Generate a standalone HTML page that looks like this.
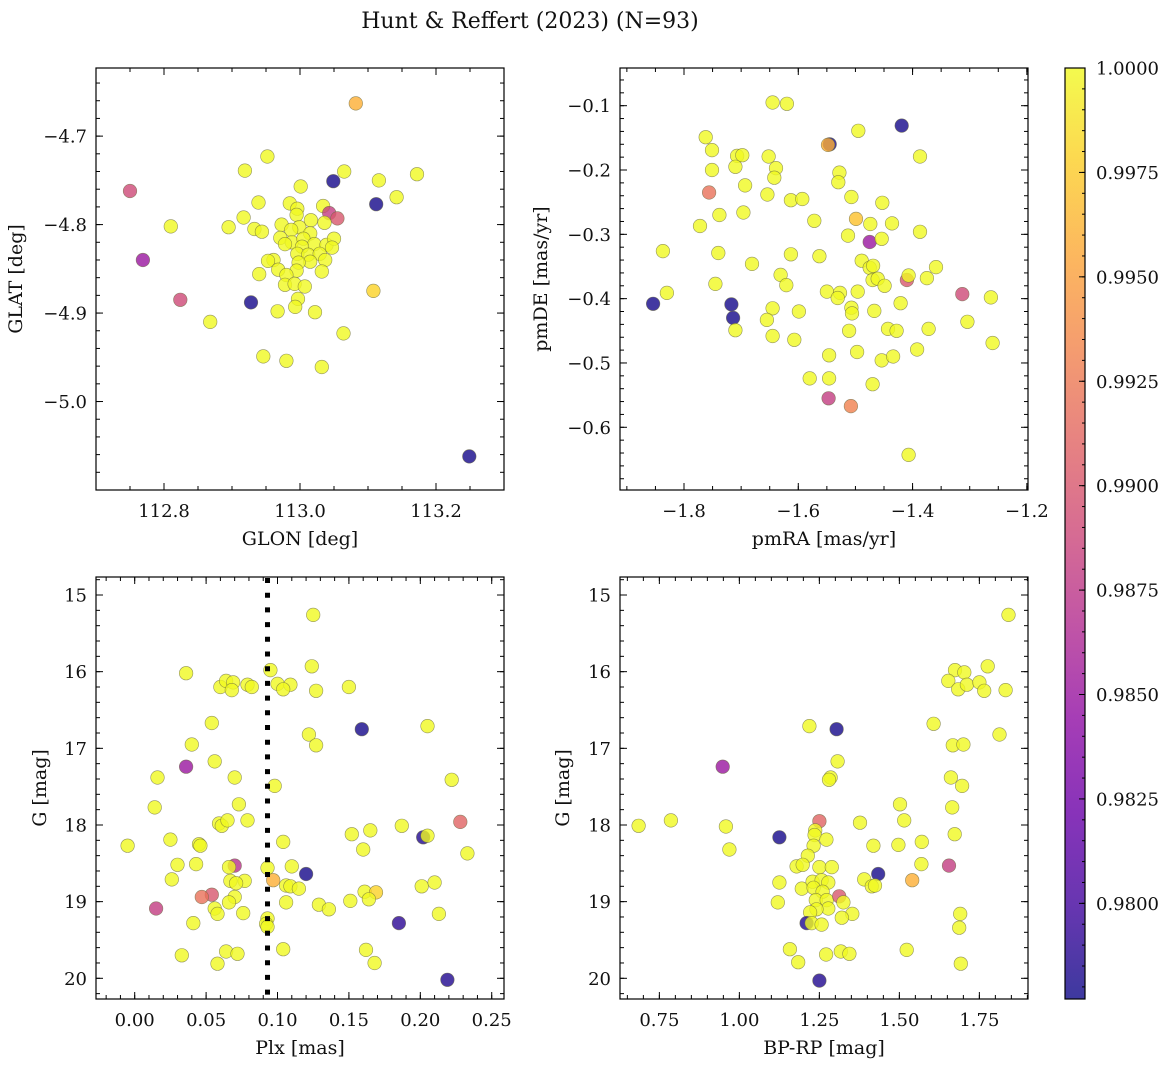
<!DOCTYPE html>
<html><head><meta charset="utf-8">
<style>
html,body{margin:0;padding:0;background:#fff;}
svg text{font-family:"DejaVu Serif","Liberation Serif",serif;fill:#111;}
</style></head>
<body>
<svg id="fig" width="1173" height="1067" viewBox="0 0 1173 1067" xmlns="http://www.w3.org/2000/svg">
<defs>
<linearGradient id="plasmaGrad" x1="0" y1="1" x2="0" y2="0">
<stop offset="0" stop-color="#0d0887"/><stop offset="0.1" stop-color="#41049d"/><stop offset="0.2" stop-color="#6a00a8"/><stop offset="0.3" stop-color="#8f0da4"/><stop offset="0.4" stop-color="#b12a90"/><stop offset="0.5" stop-color="#cc4778"/><stop offset="0.6" stop-color="#e16462"/><stop offset="0.7" stop-color="#f2844b"/><stop offset="0.8" stop-color="#fca636"/><stop offset="0.9" stop-color="#fcce25"/><stop offset="1" stop-color="#f0f921"/>
</linearGradient>
</defs>
<text x="530" y="28" font-size="22" text-anchor="middle">Hunt &amp; Reffert (2023) (N=93)</text>
</svg>
<script>
// ---- Panel 1: GLON / GLAT ----
const glon = [112.750,112.769,112.810,112.824,112.868,113.082,113.249,112.952,112.919,113.065,113.049,113.116,113.172,113.001,113.142,113.112,112.939,112.985,112.996,113.034,113.043,113.055,113.036,112.917,112.895,112.933,112.944,112.973,112.995,113.016,112.999,112.987,113.015,112.971,112.988,113.005,113.021,113.039,113.050,113.047,113.003,112.978,112.996,113.012,113.029,113.037,113.015,112.998,112.961,112.953,112.968,112.995,113.032,112.980,112.940,112.978,112.992,113.007,112.997,112.993,112.967,113.022,112.928,113.108,113.064,112.946,112.980,113.032];
const glat = [-4.762,-4.840,-4.802,-4.885,-4.910,-4.663,-5.062,-4.723,-4.739,-4.740,-4.751,-4.750,-4.743,-4.757,-4.769,-4.777,-4.775,-4.776,-4.782,-4.779,-4.787,-4.793,-4.798,-4.792,-4.803,-4.805,-4.808,-4.800,-4.789,-4.795,-4.803,-4.806,-4.810,-4.815,-4.820,-4.816,-4.822,-4.823,-4.816,-4.826,-4.825,-4.822,-4.833,-4.834,-4.833,-4.840,-4.842,-4.843,-4.840,-4.841,-4.851,-4.852,-4.853,-4.857,-4.856,-4.868,-4.867,-4.870,-4.884,-4.893,-4.898,-4.899,-4.888,-4.875,-4.923,-4.949,-4.954,-4.961];
const prob1 = [.989,.985,1,.989,1,.996,.978,1,1,1,.978,1,1,1,1,.978,1,1,1,1,.988,.990,
1,1,1,1,1,1,1,1,1,1,1,1,1,1,1,1,1,1,1,1,1,1,1,1,1,1,1,1,1,1,1,1,1,1,1,1,1,1,1,1,
.978,.998,1,1,1,1];
// ---- Panel 2: pmRA / pmDE ----
const pmra = [-1.645,-1.620,-1.762,-1.751,-1.751,-1.707,-1.698,-1.710,-1.652,-1.639,-1.642,-1.756,-1.693,-1.654,-1.613,-1.593,-1.545,-1.548,-1.495,-1.419,-1.387,-1.528,-1.530,-1.507,-1.453,-1.738,-1.696,-1.772,-1.572,-1.499,-1.474,-1.436,-1.513,-1.475,-1.454,-1.387,-1.837,-1.740,-1.681,-1.613,-1.563,-1.489,-1.475,-1.469,-1.631,-1.621,-1.470,-1.461,-1.449,-1.410,-1.407,-1.375,-1.359,-1.745,-1.830,-1.854,-1.717,-1.714,-1.710,-1.550,-1.527,-1.531,-1.496,-1.507,-1.506,-1.645,-1.655,-1.645,-1.599,-1.607,-1.467,-1.421,-1.313,-1.263,-1.304,-1.260,-1.443,-1.428,-1.511,-1.372,-1.392,-1.546,-1.497,-1.454,-1.434,-1.580,-1.546,-1.470,-1.547,-1.508,-1.407];
const pmde = [-0.095,-0.097,-0.149,-0.169,-0.200,-0.178,-0.177,-0.195,-0.179,-0.197,-0.212,-0.235,-0.224,-0.238,-0.247,-0.245,-0.160,-0.161,-0.139,-0.131,-0.179,-0.204,-0.219,-0.242,-0.251,-0.270,-0.266,-0.287,-0.279,-0.276,-0.284,-0.283,-0.302,-0.312,-0.307,-0.296,-0.326,-0.329,-0.346,-0.331,-0.334,-0.341,-0.352,-0.349,-0.363,-0.379,-0.371,-0.369,-0.380,-0.371,-0.364,-0.368,-0.351,-0.377,-0.391,-0.408,-0.409,-0.430,-0.449,-0.389,-0.391,-0.399,-0.389,-0.414,-0.423,-0.415,-0.433,-0.458,-0.420,-0.464,-0.419,-0.407,-0.393,-0.398,-0.436,-0.469,-0.447,-0.450,-0.450,-0.447,-0.479,-0.488,-0.483,-0.496,-0.490,-0.524,-0.524,-0.533,-0.555,-0.567,-0.643];
const prob2 = [1,1,1,1,1,1,1,1,1,1, 1,.992,1,1,1,1,.978,.996,1,.978, 1,1,1,1,1,1,1,1,1,.997, 1,1,1,.985,1,1,1,1,1,1, 1,1,1,1,1,1,1,1,1,.990, 1,1,1,1,1,.978,.978,.978,1,1, 1,1,1,1,1,1,1,1,1,1, 1,1,.989,1,1,1,1,1,1,1, 1,1,1,1,1,1,1,1,.988,.993,1];
// ---- Panel 3: Plx / G ----
const plx = [0.125,0.036,0.124,0.095,0.060,0.064,0.069,0.068,0.079,0.082,0.100,0.109,0.104,0.127,0.150,0.054,0.159,0.205,0.122,0.127,0.040,0.036,0.056,0.016,0.070,0.098,0.222,0.014,0.073,0.059,0.061,0.065,0.079,0.187,0.228,-0.005,0.025,0.045,0.046,0.152,0.165,0.202,0.205,0.104,0.160,0.233,0.030,0.043,0.070,0.066,0.093,0.110,0.120,0.026,0.067,0.077,0.071,0.097,0.106,0.109,0.115,0.054,0.047,0.070,0.066,0.106,0.015,0.056,0.058,0.076,0.129,0.136,0.151,0.161,0.169,0.164,0.201,0.210,0.185,0.213,0.041,0.093,0.092,0.093,0.033,0.064,0.072,0.058,0.104,0.162,0.168,0.219];
const gmag3 = [15.26,16.02,15.93,15.98,16.20,16.12,16.14,16.24,16.17,16.20,16.16,16.17,16.23,16.25,16.20,16.67,16.75,16.71,16.82,16.96,16.95,17.24,17.17,17.38,17.38,17.49,17.41,17.77,17.73,17.98,18.01,17.94,17.94,18.01,17.96,18.27,18.19,18.25,18.27,18.12,18.07,18.16,18.14,18.22,18.32,18.37,18.52,18.51,18.53,18.55,18.56,18.54,18.64,18.71,18.73,18.73,18.76,18.72,18.79,18.80,18.83,18.91,18.94,18.94,19.01,19.01,19.09,19.09,19.16,19.15,19.04,19.10,18.99,18.87,18.88,18.97,18.80,18.75,19.28,19.16,19.28,19.22,19.29,19.33,19.70,19.65,19.68,19.81,19.62,19.63,19.80,20.02];
const prob3 = [1,1,1,1,1,1,1,1,1,1, 1,1,1,1,1,1,.978,1,1,1, 1,.985,1,1,1,1,1,1,1,1, 1,1,1,1,.991,1,1,1,1,1, 1,.9785,1,1,1,1,1,1,.987,1, 1,1,.978,1,1,1,1,.996,1,1, 1,.990,.992,1,1,1,.988,1,1,1, 1,1,1,1,.998,1,1,1,.979,1, 1,1,1,1,1,1,1,1,1,1, 1,.9785];
const plxLine = [0.093];
// ---- Panel 4: BP-RP / G ----
const bprp = [1.841,1.674,1.703,1.653,1.684,1.711,1.750,1.765,1.776,1.832,1.607,1.813,1.667,1.700,1.219,1.304,0.948,1.307,1.285,1.280,1.661,1.696,1.665,1.502,1.515,1.377,1.673,0.685,0.786,0.958,0.969,1.250,1.237,1.235,1.272,1.232,1.214,1.125,1.419,1.497,1.570,1.569,1.655,1.179,1.198,1.250,1.289,1.434,1.390,1.540,1.414,1.424,1.125,1.120,1.195,1.229,1.257,1.278,1.232,1.260,1.239,1.273,1.312,1.325,1.278,1.241,1.353,1.320,1.221,1.210,1.226,1.257,1.690,1.687,1.158,1.184,1.271,1.317,1.344,1.523,1.692,1.250];
const gmag4 = [15.26,15.98,16.01,16.12,16.23,16.17,16.14,16.25,15.93,16.24,16.68,16.82,16.96,16.95,16.71,16.75,17.24,17.17,17.38,17.41,17.38,17.49,17.77,17.73,17.94,17.97,18.12,18.01,17.94,18.02,18.32,17.95,18.07,18.13,18.19,18.27,18.40,18.16,18.27,18.26,18.22,18.51,18.53,18.54,18.52,18.55,18.55,18.64,18.71,18.72,18.80,18.79,18.75,19.01,18.83,18.74,18.72,18.75,18.82,18.87,18.98,18.98,18.93,19.01,19.09,19.10,19.16,19.21,19.14,19.28,19.28,19.30,19.16,19.34,19.62,19.79,19.69,19.65,19.68,19.63,19.81,20.03];
const prob4 = [1,1,1,1,1,1,1,1,1,1, 1,1,1,1,1,.978,.985,1,1,1, 1,1,1,1,1,1,1,1,1,1, 1,.991,1,1,1,1,1,.978,1,1, 1,1,.988,1,1,1,1,.978,1,.996, 1,1,1,1,1,1,1,1,1,1, 1,1,.990,1,1,1,1,1,1,.9785, 1,1,1,1,1,1,1,1,1,1, 1,.9785];
// ---- Tick labels ----
const p1XTicks = [112.8,113.0,113.2];
const p1YTicks = [-4.7,-4.8,-4.9,-5.0];
const p2XTicks = [-1.8,-1.6,-1.4,-1.2];
const p2YTicks = [-0.1,-0.2,-0.3,-0.4,-0.5,-0.6];
const p3XTicks = [0.00,0.05,0.10,0.15,0.20,0.25];
const gTicks = [15,16,17,18,19,20];
const p4XTicks = [0.75,1.00,1.25,1.50,1.75];
const cbTicks = [1.0000,0.9975,0.9950,0.9925,0.9900,0.9875,0.9850,0.9825,0.9800];
const cbMin = 0.97771, cbMax = 1.0;

const NS = "http://www.w3.org/2000/svg";
const svg = document.getElementById('fig');
function mk(tag, attrs, parent){
  const e = document.createElementNS(NS, tag);
  for (const k in attrs) e.setAttribute(k, attrs[k]);
  (parent||svg).appendChild(e);
  return e;
}
const stops = [[0,[13,8,135]],[0.1,[65,4,157]],[0.2,[106,0,168]],[0.3,[143,13,164]],[0.4,[177,42,144]],[0.5,[204,71,120]],[0.6,[225,100,98]],[0.7,[242,132,75]],[0.8,[252,166,54]],[0.9,[252,206,37]],[1,[240,249,33]]];
function plasma(v){
  let t = (v-cbMin)/(cbMax-cbMin); t = Math.max(0,Math.min(1,t));
  for (let i=0;i<stops.length-1;i++){
    const a=stops[i], b=stops[i+1];
    if (t<=b[0]){ const f=(t-a[0])/(b[0]-a[0]);
      const c=a[1].map((x,j)=>Math.round(x+(b[1][j]-x)*f));
      return 'rgb('+c.join(',')+')'; }
  }
  return 'rgb(240,249,33)';
}

function panel(cfg){
  const g = mk('g', {});
  
  
  const L=cfg.left, T=cfg.top, W=408, H=422;
  const sx = v => L + (v-cfg.xmin)/(cfg.xmax-cfg.xmin)*W;
  const sy = cfg.invert ? (v => T + (v-cfg.ymin)/(cfg.ymax-cfg.ymin)*H) : (v => T + H - (v-cfg.ymin)/(cfg.ymax-cfg.ymin)*H);
  const pts = mk('g', {}, g);
  
  
  for (let i=0;i<cfg.xs.length;i++){
    const c = mk('circle', {cx:sx(cfg.xs[i]).toFixed(1), cy:sy(cfg.ys[i]).toFixed(1), r:6.8, fill:plasma(cfg.ps[i]), 'fill-opacity':0.8, stroke:'#6a6a40', 'stroke-width':0.6, 'stroke-opacity':0.7}, pts);
    
    
  }
  if (cfg.vline){
    const ln = mk('line', {x1:sx(cfg.vline[0]), x2:sx(cfg.vline[0]), y1:T+1, y2:T+H, stroke:'#000', 'stroke-width':5, 'stroke-dasharray':'5,9.7'}, g);
    
    
  }
  const fr = mk('rect', {x:L, y:T, width:W, height:H, fill:'none', stroke:'#000', 'stroke-width':1.2}, g);
  
  
  const tk = mk('g', {stroke:'#000','stroke-width':1}, g);
  
  
  const lo=Math.min(cfg.xmin,cfg.xmax), hi=Math.max(cfg.xmin,cfg.xmax);
  for (let v=Math.ceil(lo/cfg.xminor-1e-6)*cfg.xminor; v<=hi+1e-9; v+=cfg.xminor){
    const x=sx(v); mk('line',{x1:x,x2:x,y1:T+H,y2:T+H-4},tk); mk('line',{x1:x,x2:x,y1:T,y2:T+4},tk);
  }
  const ylo=Math.min(cfg.ymin,cfg.ymax), yhi=Math.max(cfg.ymin,cfg.ymax);
  for (let v=Math.ceil(ylo/cfg.yminor-1e-6)*cfg.yminor; v<=yhi+1e-9; v+=cfg.yminor){
    const y=sy(v); mk('line',{x1:L,x2:L+4,y1:y,y2:y},tk); mk('line',{x1:L+W,x2:L+W-4,y1:y,y2:y},tk);
  }
  cfg.xt.forEach(v=>{
    const x=sx(v); mk('line',{x1:x,x2:x,y1:T+H,y2:T+H-7},tk); mk('line',{x1:x,x2:x,y1:T,y2:T+7},tk);
    const t=mk('text',{x:x,y:T+H+27,'font-size':18,'text-anchor':'middle'},g);
    t.textContent = (v<0?'\u2212':'')+Math.abs(v).toFixed(cfg.xdec);
    
    
  });
  cfg.yt.forEach(v=>{
    const y=sy(v); mk('line',{x1:L,x2:L+7,y1:y,y2:y},tk); mk('line',{x1:L+W,x2:L+W-7,y1:y,y2:y},tk);
    const t=mk('text',{x:L-9,y:y+6.5,'font-size':18,'text-anchor':'end'},g);
    t.textContent = (v<0?'\u2212':'')+Math.abs(v).toFixed(cfg.ydec);
    
    
  });
  const xl=mk('text',{x:L+W/2,y:T+H+55,'font-size':19,'text-anchor':'middle'},g);
  xl.textContent=cfg.xlabel;
  
  
  const yl=mk('text',{x:0,y:0,'font-size':19,'text-anchor':'middle',transform:'translate('+cfg.ylx+','+(T+H/2)+') rotate(-90)'},g);
  yl.textContent=cfg.ylabel;
  
  
}

panel({name:'glon-glat-panel',left:96,top:68,xmin:112.7,xmax:113.3,ymin:-5.1,ymax:-4.623,xs:glon,ys:glat,ps:prob1,xt:p1XTicks,yt:p1YTicks,xdec:1,ydec:1,xminor:0.05,yminor:0.02,xlabel:'GLON [deg]',ylabel:'GLAT [deg]',ylx:22});
panel({name:'proper-motion-panel',left:620,top:68,xmin:-1.912,xmax:-1.198,ymin:-0.6975,ymax:-0.0414,xs:pmra,ys:pmde,ps:prob2,xt:p2XTicks,yt:p2YTicks,xdec:1,ydec:1,xminor:0.05,yminor:0.02,xlabel:'pmRA [mas/yr]',ylabel:'pmDE [mas/yr]',ylx:547});
panel({name:'parallax-magnitude-panel',left:96,top:577,xmin:-0.0271,xmax:0.2586,ymin:14.765,ymax:20.27,invert:true,xs:plx,ys:gmag3,ps:prob3,xt:p3XTicks,yt:gTicks,xdec:2,ydec:0,xminor:0.01,yminor:0.2,xlabel:'Plx [mas]',ylabel:'G [mag]',ylx:46,vline:plxLine});
panel({name:'color-magnitude-panel',left:620,top:577,xmin:0.627,xmax:1.902,ymin:14.765,ymax:20.27,invert:true,xs:bprp,ys:gmag4,ps:prob4,xt:p4XTicks,yt:gTicks,xdec:2,ydec:0,xminor:0.05,yminor:0.2,xlabel:'BP-RP [mag]',ylabel:'G [mag]',ylx:569});

(function(){
  const g = mk('g', {});
  
  
  const X=1065,T=68,W=20,B=999;
  const sy = v => B - (v-cbMin)/(cbMax-cbMin)*(B-T);
  mk('rect',{x:X,y:T,width:W,height:B-T,fill:'url(#plasmaGrad)','fill-opacity':0.8},g);
  mk('rect',{x:X,y:T,width:W,height:B-T,fill:'none',stroke:'#000','stroke-width':1.2},g);
  for (let v=0.978; v<=1.00001; v+=0.0005){
    const y=sy(v); mk('line',{x1:X+W,x2:X+W-3,y1:y,y2:y,stroke:'#000','stroke-width':1},g);
  }
  cbTicks.forEach(v=>{
    const y=sy(v); mk('line',{x1:X+W,x2:X+W-6,y1:y,y2:y,stroke:'#000','stroke-width':1},g);
    const t=mk('text',{x:X+W+11,y:y+6.5,'font-size':18},g);
    t.textContent=v.toFixed(4);
    
    
  });
})();
</script>
</body></html>
